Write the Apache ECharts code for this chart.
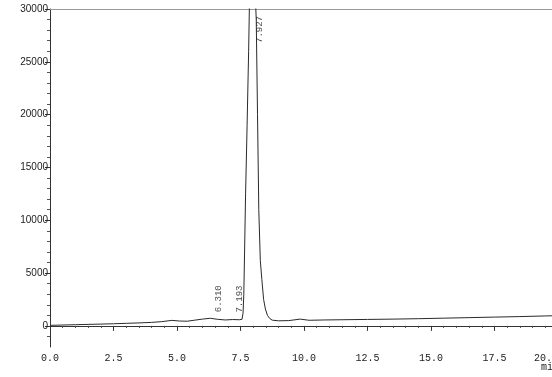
<!DOCTYPE html>
<html>
<head>
<meta charset="utf-8">
<script src="https://cdn.jsdelivr.net/npm/echarts@6/dist/echarts.min.js"></script>
<style>
html,body{margin:0;padding:0;background:#fff;}
#chart{width:552px;height:377px;}
</style>
</head>
<body>
<div id="chart"></div>
<script>
// Chromatogram trace (time in min, signal)
const times = [0.0, 0.5, 1.0, 1.5, 2.0, 2.5, 3.0, 3.5, 4.0, 4.4, 4.8, 5.1, 5.4, 5.7, 6.0, 6.31, 6.6, 6.9, 7.193, 7.45, 7.56, 7.60, 7.63, 7.66, 7.70, 7.76, 7.82, 7.87, 7.93, 8.00, 8.07, 8.12, 8.17, 8.22, 8.28, 8.34, 8.41, 8.48, 8.56, 8.65, 8.75, 9.0, 9.4, 9.85, 10.2, 10.8, 11.5, 12.5, 13.5, 14.5, 15.5, 16.5, 17.5, 18.5, 19.5, 20.0];
const signal = [50, 80, 110, 140, 170, 200, 240, 280, 330, 400, 520, 460, 440, 540, 640, 720, 620, 560, 600, 580, 620, 1200, 3000, 7000, 12500, 19000, 26000, 33000, 38000, 36000, 32000, 29000, 20000, 11000, 6200, 4400, 2500, 1600, 1000, 700, 540, 480, 500, 640, 530, 560, 580, 610, 640, 680, 730, 780, 830, 880, 940, 970];

// Peak annotations
const peakTimes = [6.310, 7.193, 7.927];
const peakHeights = [720, 600, 38000];

// Axis ticks
const yLabelValues = [0, 5000, 10000, 15000, 20000, 25000, 30000];
const yMinorValues = [-1000, 1000, 2000, 3000, 4000, 6000, 7000, 8000, 9000, 11000, 12000, 13000, 14000, 16000, 17000, 18000, 19000, 21000, 22000, 23000, 24000, 26000, 27000, 28000, 29000];
const xMin = 0, xMax = 20, xStep = 2.5;
const yMin = -2000, yMax = 30000;

const chart = echarts.init(document.getElementById('chart'), null, {renderer: 'canvas'});

const trace = times.map((t, i) => [t, signal[i]]);
const labelOffsets = [[8, -6], [7, -7], [8, 34]];
const peaks = peakTimes.map((t, i) => ({
  value: [t, Math.min(peakHeights[i], yMax)],
  label: {position: labelOffsets[i]}
}));

const monoFont = 'Liberation Mono';

chart.setOption({
  animation: false,
  backgroundColor: '#ffffff',
  grid: {left: 50, right: -6, top: 9, bottom: 30, containLabel: false, outerBoundsMode: 'none'},
  xAxis: [{
    type: 'value', min: xMin, max: xMax, interval: xStep, position: 'bottom',
    axisLine: {show: true, lineStyle: {color: '#333', width: 1}},
    axisTick: {show: true, length: 5, lineStyle: {color: '#333'}},
    minorTick: {show: true, splitNumber: 5, length: 2, lineStyle: {color: '#444'}},
    splitLine: {show: false},
    axisLabel: {
      show: true, margin: 6, color: '#222', fontFamily: monoFont, fontSize: 10,
      hideOverlap: false, showMaxLabel: true, alignMaxLabel: 'right',
      formatter: v => v.toFixed(1)
    }
  }, {
    type: 'value', min: xMin, max: xMax, position: 'top',
    axisLine: {show: true, onZero: false, lineStyle: {color: '#9a9a9a', width: 1}},
    axisTick: {show: false}, axisLabel: {show: false}, splitLine: {show: false}
  }],
  yAxis: [{
    type: 'value', min: yMin, max: yMax, position: 'left',
    axisLine: {show: true, onZero: false, lineStyle: {color: '#333', width: 1}},
    axisTick: {show: true, length: 5, customValues: yLabelValues, lineStyle: {color: '#333'}},
    axisLabel: {
      show: true, margin: 2, customValues: yLabelValues, color: '#222',
      fontFamily: 'Liberation Sans', fontSize: 10,
      formatter: v => String(v)
    },
    splitLine: {show: false}
  }, {
    type: 'value', min: yMin, max: yMax, position: 'left', offset: 0,
    axisLine: {show: false},
    axisTick: {show: true, length: 3, customValues: yMinorValues, lineStyle: {color: '#555'}},
    axisLabel: {show: false},
    splitLine: {show: false}
  }],
  series: [{
    type: 'line',
    data: trace,
    showSymbol: false,
    symbol: 'none',
    clip: true,
    lineStyle: {color: '#2a2a2a', width: 1},
    xAxisIndex: 0, yAxisIndex: 0
  }, {
    type: 'scatter',
    data: peaks,
    symbolSize: 0,
    clip: false,
    xAxisIndex: 0, yAxisIndex: 0,
    label: {
      show: true, rotate: 90, align: 'left', verticalAlign: 'middle',
      fontFamily: monoFont, fontSize: 9, color: '#222',
      formatter: p => p.value[0].toFixed(3)
    }
  }],
  graphic: [{
    type: 'text', left: 541, top: 362,
    style: {text: 'min', font: '10px "Liberation Mono"', fill: '#222'}
  }]
});
</script>
</body>
</html>
